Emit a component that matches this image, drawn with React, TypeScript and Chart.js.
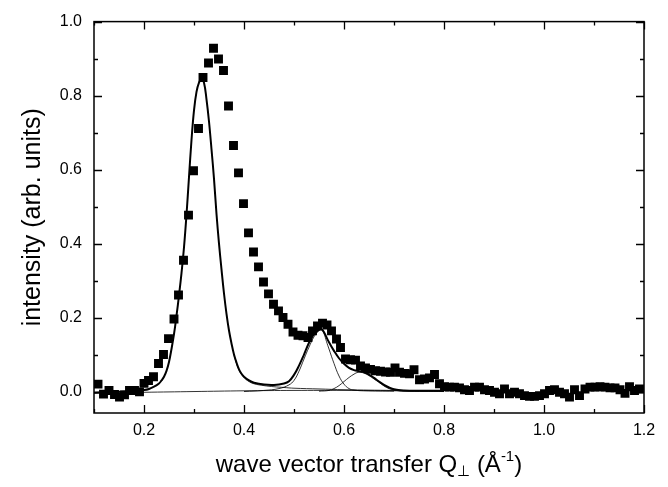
import React, { useEffect, useRef } from "react";
import { Chart, registerables } from "chart.js";

Chart.register(...registerables);

// measured intensity (squares)
const qData = [
  0.108, 0.119, 0.130, 0.141, 0.151, 0.161, 0.171, 0.181, 0.191, 0.200,
  0.209, 0.219, 0.229, 0.239, 0.249, 0.260, 0.269, 0.279, 0.289, 0.299,
  0.309, 0.318, 0.329, 0.339, 0.349, 0.359, 0.369, 0.379, 0.389, 0.399,
  0.409, 0.419, 0.429, 0.439, 0.449, 0.459, 0.469, 0.478, 0.488, 0.498,
  0.508, 0.518, 0.528, 0.537, 0.547, 0.557, 0.566, 0.575, 0.585, 0.593,
  0.603, 0.613, 0.623, 0.633, 0.643, 0.653, 0.663, 0.673, 0.683, 0.693,
  0.702, 0.711, 0.721, 0.731, 0.740, 0.751, 0.761, 0.771, 0.781, 0.791,
  0.801, 0.811, 0.821, 0.831, 0.841, 0.851, 0.861, 0.871, 0.881, 0.891,
  0.901, 0.911, 0.921, 0.931, 0.941, 0.951, 0.961, 0.971, 0.981, 0.991,
  1.001, 1.011, 1.021, 1.031, 1.041, 1.051, 1.061, 1.071, 1.082, 1.092,
  1.102, 1.112, 1.122, 1.132, 1.142, 1.152, 1.162, 1.171, 1.181, 1.191,
];
const intensityData = [
  0.020, -0.007, 0.003, -0.008, -0.015, -0.009, 0.003, 0.003, -0.001, 0.022,
  0.030, 0.040, 0.076, 0.100, 0.143, 0.196, 0.261, 0.355, 0.477, 0.597,
  0.711, 0.849, 0.888, 0.928, 0.899, 0.868, 0.772, 0.665, 0.591, 0.508,
  0.429, 0.377, 0.337, 0.296, 0.264, 0.236, 0.218, 0.200, 0.182, 0.161,
  0.152, 0.151, 0.146, 0.164, 0.177, 0.185, 0.180, 0.164, 0.142, 0.119,
  0.088, 0.086, 0.085, 0.069, 0.064, 0.060, 0.056, 0.055, 0.053, 0.052,
  0.064, 0.052, 0.049, 0.048, 0.059, 0.032, 0.034, 0.037, 0.046, 0.021,
  0.013, 0.012, 0.012, 0.010, 0.005, 0.003, 0.012, 0.012, 0.005, 0.003,
  -0.002, -0.006, 0.007, -0.006, -0.002, -0.006, -0.011, -0.013, -0.013, -0.011,
  -0.006, 0.003, 0.005, -0.002, -0.006, -0.015, 0.005, -0.011, 0.007, 0.012,
  0.012, 0.013, 0.012, 0.010, 0.010, 0.005, -0.005, 0.013, 0.003, 0.007,
];

// total fit (thick line)
const fitQ = [
  0.10, 0.12, 0.14, 0.16, 0.18, 0.20, 0.21, 0.22, 0.23, 0.235,
  0.24, 0.245, 0.25, 0.255, 0.26, 0.265, 0.27, 0.275, 0.28, 0.285,
  0.29, 0.295, 0.30, 0.305, 0.31, 0.315, 0.32, 0.325, 0.33, 0.335,
  0.34, 0.345, 0.35, 0.355, 0.36, 0.365, 0.37, 0.375, 0.38, 0.385,
  0.39, 0.395, 0.40, 0.41, 0.42, 0.44, 0.46, 0.48, 0.49, 0.50,
  0.51, 0.52, 0.53, 0.54, 0.55, 0.555, 0.56, 0.57, 0.58, 0.59,
  0.60, 0.61, 0.62, 0.63, 0.64, 0.65, 0.66, 0.67, 0.68, 0.69,
  0.70, 0.72, 0.75, 0.80,
];
const fitTotal = [
  -0.003, -0.002, -0.001, 0.000, 0.001, 0.004, 0.007, 0.013, 0.022, 0.030,
  0.040, 0.056, 0.080, 0.115, 0.155, 0.205, 0.260, 0.320, 0.390, 0.478,
  0.580, 0.680, 0.760, 0.810, 0.835, 0.845, 0.835, 0.790, 0.730, 0.655,
  0.575, 0.480, 0.400, 0.330, 0.265, 0.210, 0.165, 0.130, 0.100, 0.078,
  0.060, 0.048, 0.040, 0.030, 0.024, 0.019, 0.018, 0.022, 0.028, 0.045,
  0.070, 0.100, 0.132, 0.155, 0.167, 0.169, 0.160, 0.133, 0.110, 0.090,
  0.075, 0.064, 0.058, 0.055, 0.052, 0.046, 0.037, 0.027, 0.018, 0.011,
  0.006, 0.003, 0.002, 0.002,
];

// component curves (thin lines)
const mainQ = [0.38, 0.39, 0.40, 0.41, 0.42, 0.44, 0.46, 0.48, 0.50, 0.55, 0.60, 0.70, 0.80];
const mainPeak = [0.098, 0.058, 0.038, 0.027, 0.021, 0.016, 0.013, 0.011, 0.009, 0.007, 0.005, 0.003, 0.002];

const peak2Q = [0.40, 0.44, 0.47, 0.49, 0.50, 0.51, 0.52, 0.53, 0.54, 0.55, 0.555, 0.56, 0.565, 0.57, 0.58, 0.59, 0.60, 0.61, 0.62, 0.64, 0.70];
const peak2 = [0.000, 0.003, 0.008, 0.018, 0.030, 0.055, 0.088, 0.120, 0.148, 0.165, 0.168, 0.157, 0.135, 0.115, 0.076, 0.042, 0.020, 0.008, 0.004, 0.002, 0.001];

const peak3Q = [0.55, 0.57, 0.58, 0.59, 0.60, 0.61, 0.62, 0.628, 0.64, 0.65, 0.66, 0.67, 0.68, 0.69, 0.70, 0.72, 0.80];
const peak3 = [0.001, 0.003, 0.008, 0.016, 0.027, 0.038, 0.047, 0.052, 0.050, 0.043, 0.034, 0.025, 0.015, 0.008, 0.004, 0.001, 0.000];

const baseQ = [0.10, 0.20, 0.30, 0.40, 0.50, 0.60, 0.70, 0.80];
const baseline = [-0.004, -0.002, 0.000, 0.002, 0.003, 0.003, 0.002, 0.001];

// axes
const xMin = 0.1;
const xMax = 1.2;
const yMin = -0.058;
const yMax = 1.0;
const xMajorTicks = [0.2, 0.4, 0.6, 0.8, 1.0, 1.2];
const xMinorTicks = [0.1, 0.3, 0.5, 0.7, 0.9, 1.1];
const yMajorTicks = [0.0, 0.2, 0.4, 0.6, 0.8, 1.0];
const yMinorTicks = [0.1, 0.3, 0.5, 0.7, 0.9];
const yTitle = "intensity (arb. units)";
const xTitleMain = "wave vector transfer Q";
const xTitleSub = "\u22A5";
const xTitleOpen = " (\u00C5";
const xTitleSup = "-1";
const xTitleClose = ")";

const FONT = "'Liberation Sans', Arial, Helvetica, sans-serif";

const pts = (xs: number[], ys: number[]) => xs.map((x, i) => ({ x, y: ys[i] }));

const framePlugin = {
  id: "frameTicks",
  afterDatasetsDraw(chart: any) {
    const { ctx, chartArea: a, scales } = chart;
    const x = scales.x;
    const y = scales.y;
    ctx.save();
    ctx.strokeStyle = "#000";
    ctx.lineWidth = 1.5;
    ctx.strokeRect(a.left, a.top, a.right - a.left, a.bottom - a.top);
    ctx.beginPath();
    const xt = (v: number, len: number) => {
      const p = Math.round(x.getPixelForValue(v)) + 0.5;
      ctx.moveTo(p, a.bottom);
      ctx.lineTo(p, a.bottom - len);
      ctx.moveTo(p, a.top);
      ctx.lineTo(p, a.top + len);
    };
    const yt = (v: number, len: number) => {
      const p = Math.round(y.getPixelForValue(v)) + 0.5;
      ctx.moveTo(a.left, p);
      ctx.lineTo(a.left + len, p);
      ctx.moveTo(a.right, p);
      ctx.lineTo(a.right - len, p);
    };
    xMajorTicks.forEach((v) => xt(v, 8));
    xMinorTicks.forEach((v) => xt(v, 4));
    yMajorTicks.forEach((v) => yt(v, 8));
    yMinorTicks.forEach((v) => yt(v, 4));
    ctx.lineWidth = 1.3;
    ctx.stroke();

    // x title with subscript / superscript
    const big = "24px " + FONT;
    const small = "15px " + FONT;
    ctx.fillStyle = "#000";
    ctx.textBaseline = "alphabetic";
    ctx.textAlign = "left";
    ctx.font = big;
    const w1 = ctx.measureText(xTitleMain).width;
    const w3 = ctx.measureText(xTitleOpen).width;
    const w5 = ctx.measureText(xTitleClose).width;
    ctx.font = small;
    const w2 = ctx.measureText(xTitleSub).width;
    const w4 = ctx.measureText(xTitleSup).width;
    const total = w1 + w2 + w3 + w4 + w5;
    const cx = (a.left + a.right) / 2;
    let px = cx - total / 2;
    const base = 472;
    ctx.font = big;
    ctx.fillText(xTitleMain, px, base);
    px += w1;
    ctx.font = small;
    ctx.fillText(xTitleSub, px, base + 4);
    px += w2;
    ctx.font = big;
    ctx.fillText(xTitleOpen, px, base);
    px += w3;
    ctx.font = small;
    ctx.fillText(xTitleSup, px, base - 11);
    px += w4;
    ctx.font = big;
    ctx.fillText(xTitleClose, px, base);
    ctx.restore();
  },
};

export default function App() {
  const ref = useRef<HTMLCanvasElement>(null);
  useEffect(() => {
    if (!ref.current) return;
    Chart.defaults.font.family = FONT;
    Chart.defaults.color = "#000";
    const thin = { borderColor: "#000", borderWidth: 0.8, pointRadius: 0, showLine: true, fill: false, tension: 0.4 };
    const chart = new Chart(ref.current, {
      type: "scatter",
      data: {
        datasets: [
          { label: "baseline", data: pts(baseQ, baseline), ...thin },
          { label: "peak3", data: pts(peak3Q, peak3), ...thin },
          { label: "peak2", data: pts(peak2Q, peak2), ...thin },
          { label: "main", data: pts(mainQ, mainPeak), ...thin },
          {
            label: "fit",
            data: pts(fitQ, fitTotal),
            borderColor: "#000",
            borderWidth: 2,
            pointRadius: 0,
            showLine: true,
            fill: false,
            tension: 0.4,
          },
          {
            label: "data",
            data: pts(qData, intensityData),
            pointStyle: "rect",
            pointRadius: 6.3,
            pointBorderWidth: 0,
            backgroundColor: "#000",
            borderColor: "#000",
            showLine: false,
          },
        ],
      },
      options: {
        animation: false,
        responsive: false,
        devicePixelRatio: 1,
        layout: { padding: { left: 0, top: 19, right: 24, bottom: 0 } },
        plugins: { legend: { display: false }, tooltip: { enabled: false } },
        scales: {
          x: {
            type: "linear",
            min: xMin,
            max: xMax,
            grid: { display: false, drawTicks: false },
            border: { display: false },
            afterBuildTicks: (s: any) => {
              s.ticks = xMajorTicks.map((v) => ({ value: v }));
            },
            afterFit: (s: any) => {
              s.height = 74;
            },
            ticks: {
              padding: 8,
              font: { size: 16 },
              color: "#000",
              maxRotation: 0,
              autoSkip: false,
              callback: (v: any) => Number(v).toFixed(1),
            },
          },
          y: {
            type: "linear",
            min: yMin,
            max: yMax,
            grid: { display: false, drawTicks: false },
            border: { display: false },
            afterBuildTicks: (s: any) => {
              s.ticks = yMajorTicks.map((v) => ({ value: v }));
            },
            afterFit: (s: any) => {
              s.width = 94;
            },
            ticks: {
              padding: 12,
              font: { size: 16 },
              color: "#000",
              autoSkip: false,
              callback: (v: any) => Number(v).toFixed(1),
            },
            title: {
              display: true,
              text: yTitle,
              font: { size: 25 },
              color: "#000",
              padding: { top: 18, bottom: 0 },
            },
          },
        },
      },
      plugins: [framePlugin],
    } as any);
    return () => chart.destroy();
  }, []);
  return (
    <div style={{ position: "fixed", left: 0, top: 0, width: 668, height: 487, background: "#fff" }}>
      <canvas ref={ref} width={668} height={487} style={{ width: 668, height: 487 }} />
    </div>
  );
}
